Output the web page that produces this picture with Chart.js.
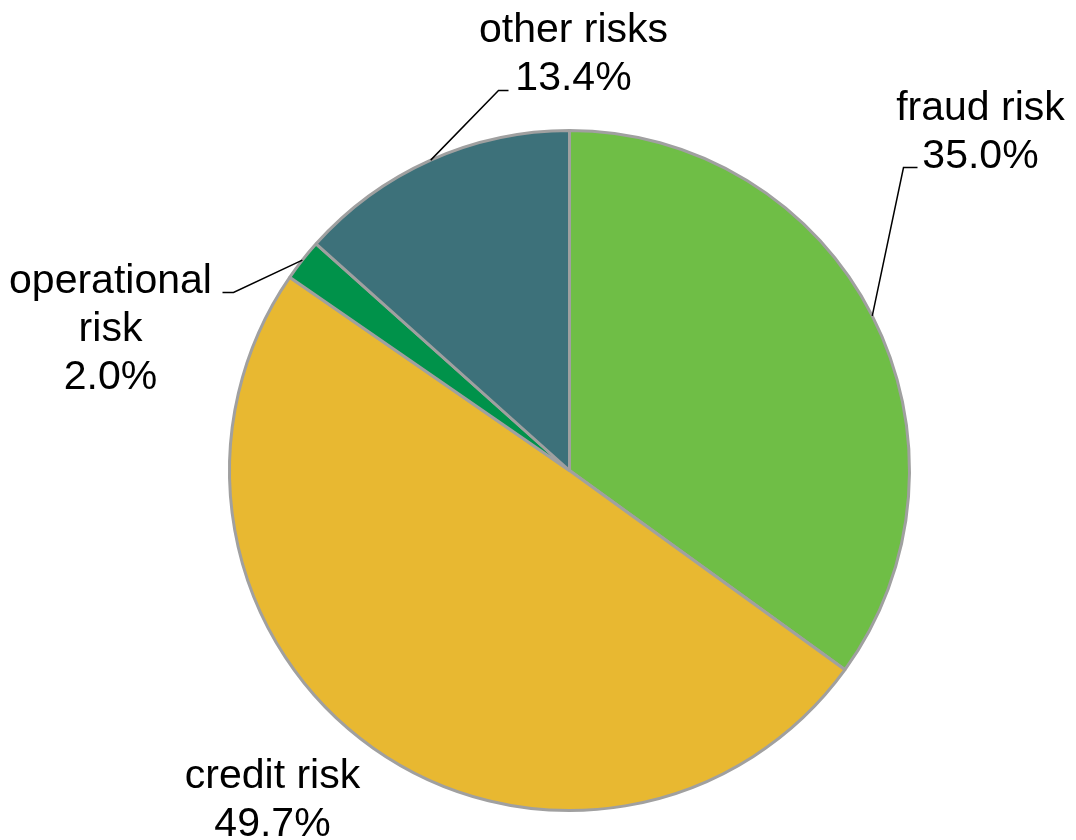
<!DOCTYPE html>
<html>
<head>
<meta charset="utf-8">
<script src="https://cdn.jsdelivr.net/npm/chart.js@4/dist/chart.umd.min.js"></script>
<style>
html,body{margin:0;padding:0;background:#fff;}
#wrap{width:1076px;height:840px;position:relative;}
</style>
</head>
<body>
<div id="wrap"><canvas id="c" width="1076" height="840"></canvas></div>
<script>
// Data
const categories = ['fraud risk', 'credit risk', 'operational risk', 'other risks'];
const shares = [35.0, 49.7, 2.0, 13.4];
const sliceColors = ['#6FBE46', '#E8B831', '#00924A', '#3D717A'];

// Label layout (text lines, anchor offsets relative to pie centre, leader elbows)
const labelLayout = [
  {lines: ['fraud risk', '35.0%'], dx: 411, firstBase: -351, leader: [[334, -303], [348, -303]]},
  {lines: ['credit risk', '49.7%'], dx: -297, firstBase: 317, leader: null},
  {lines: ['operational', 'risk', '2.0%'], dx: -459, firstBase: -178, leader: [[-336, -178], [-347, -178]]},
  {lines: ['other risks', '13.4%'], dx: 4, firstBase: -429, leader: [[-71, -380], [-61, -380]]}
];

const labelPlugin = {
  id: 'pieLabels',
  afterDatasetsDraw(chart) {
    const ctx = chart.ctx;
    const meta = chart.getDatasetMeta(0);
    ctx.save();
    ctx.font = '41px "Liberation Sans", Arial, sans-serif';
    ctx.fillStyle = '#000';
    ctx.textAlign = 'center';
    ctx.textBaseline = 'alphabetic';
    meta.data.forEach((arc, i) => {
      const L = labelLayout[i];
      const cx = arc.x, cy = arc.y;
      const mid = (arc.startAngle + arc.endAngle) / 2;
      const r = arc.outerRadius;
      if (L.leader) {
        ctx.beginPath();
        ctx.strokeStyle = '#000';
        ctx.lineWidth = 1.5;
        ctx.moveTo(cx + Math.cos(mid) * r, cy + Math.sin(mid) * r);
        L.leader.forEach(p => ctx.lineTo(cx + p[0], cy + p[1]));
        ctx.stroke();
      }
      L.lines.forEach((t, k) => {
        ctx.fillText(t, cx + L.dx, cy + L.firstBase + k * 48);
      });
    });
    ctx.restore();
  }
};

new Chart(document.getElementById('c'), {
  type: 'pie',
  data: {
    labels: categories,
    datasets: [{
      data: shares,
      backgroundColor: sliceColors,
      borderColor: '#A0A0A0',
      borderWidth: 3,
      hoverBorderWidth: 3,
      radius: 340
    }]
  },
  options: {
    responsive: false,
    animation: false,
    layout: {padding: {left: 63, right: 0, top: 101, bottom: 0}},
    plugins: {
      legend: {display: false},
      tooltip: {enabled: false}
    },
    events: []
  },
  plugins: [labelPlugin]
});
</script>
</body>
</html>
